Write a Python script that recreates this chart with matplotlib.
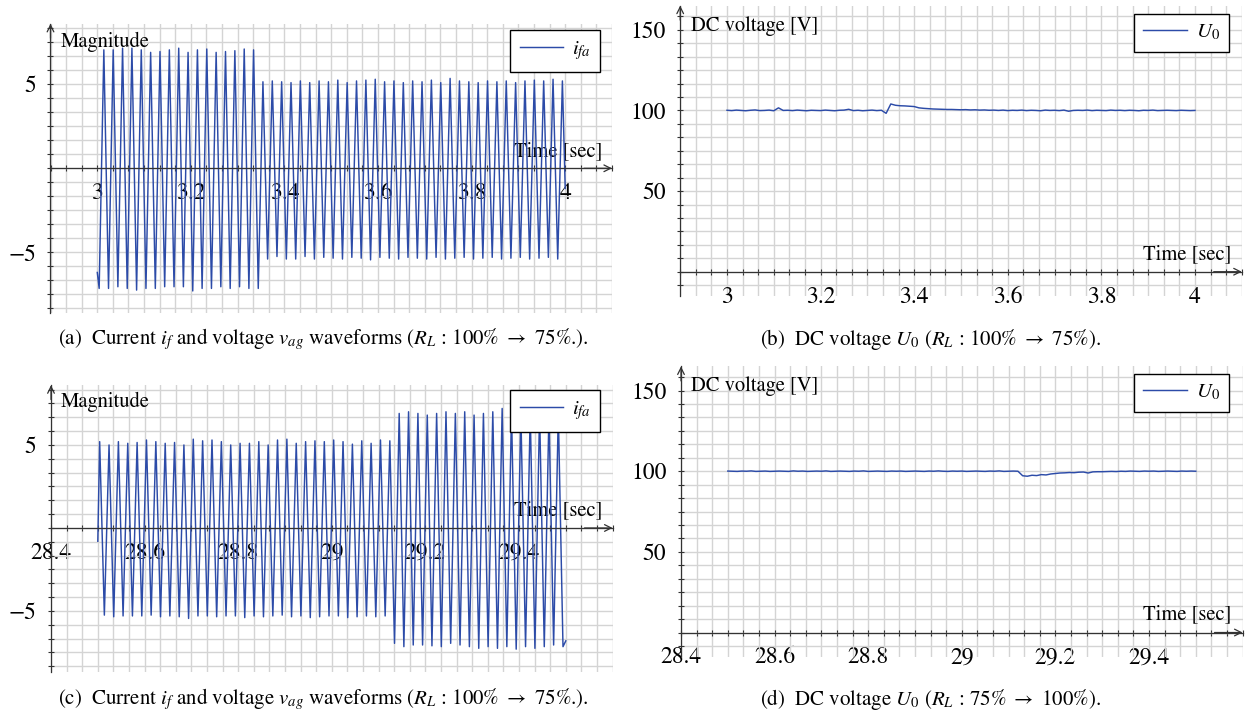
import numpy as np
import matplotlib
matplotlib.use('Agg')
import matplotlib.pyplot as plt
from matplotlib.ticker import MultipleLocator

plt.rcParams['font.family'] = 'STIXGeneral'
plt.rcParams['mathtext.fontset'] = 'stix'

W, H = 1253, 712
BLUE = '#2c4ba8'
GRID = '#d4d4d4'
AXC = '#333333'

# ---- (a) current i_fa, 3..4 s, load step 100% -> 75% ----
a_start = -6.2
a_end = -1.2
a_troughs = [-7.15, -7.15, -7.05, -7.15, -7.25, -7.15, -7.15, -7.05, -7.05, -7.05,
             -7.3, -7.15, -7.15, -7.05, -7.15, -7.05, -7.15, -7.15,
             -5.4, -5.25, -5.4, -5.4, -5.25, -5.4, -5.3, -5.35, -5.4, -5.3,
             -5.35, -5.45, -5.3, -5.35, -5.4, -5.3, -5.35, -5.4, -5.3, -5.4,
             -5.35, -5.3, -5.4, -5.35, -5.3, -5.4, -5.35, -5.3, -5.4, -5.35,
             -5.3, -5.4]
a_peaks = [7.05, 7.05, 7.15, 7.15, 7.05, 6.9, 6.95, 7.05, 7.15, 6.9,
           7.05, 7.1, 6.9, 6.95, 7.0, 7.1, 7.05,
           5.15, 5.2, 5.15, 5.1, 5.2, 5.1, 5.2, 5.15, 5.25, 5.1,
           5.2, 5.25, 5.3, 5.15, 5.2, 5.1, 5.2, 5.15, 5.25, 5.1,
           5.35, 5.2, 5.15, 5.1, 5.2, 5.15, 5.2, 5.1, 5.2, 5.25,
           5.2, 5.3, 5.2]
a_trough_t = 3.004 + 0.02 * np.arange(50)
a_peak_t = 3.014 + 0.02 * np.arange(50)

# ---- (c) current i_fa, 28.5..29.5 s, load step 75% -> 100% ----
c_start = -0.8
c_end = -6.8
c_peaks = [5.2, 5.0, 5.2, 5.1, 5.15, 5.3, 5.2, 5.1, 5.15, 5.0,
           5.35, 5.25, 5.3, 5.2, 5.0, 5.1, 5.1, 5.2, 5.0, 5.3,
           5.35, 5.1, 5.2, 5.25, 5.2, 5.3, 5.2, 5.05, 5.25, 5.1,
           5.3, 5.25,
           6.9, 7.0, 6.9, 6.8, 6.9, 7.0, 6.9, 7.0, 6.8, 6.9,
           7.0, 7.2, 7.0, 6.9, 6.95, 7.0, 6.9, 6.95]
c_troughs = [-5.25, -5.35, -5.3, -5.3, -5.3, -5.25, -5.35, -5.3, -5.35, -5.45,
             -5.3, -5.3, -5.35, -5.3, -5.3, -5.4, -5.3, -5.35, -5.3, -5.25,
             -5.35, -5.3, -5.4, -5.35, -5.3, -5.3, -5.4, -5.35, -5.3, -5.35,
             -5.3,
             -6.95, -7.15, -7.05, -7.05, -7.1, -7.15, -6.95, -7.05, -7.15, -7.25,
             -7.15, -7.25, -7.15, -7.3, -7.15, -7.25, -7.15, -7.05, -7.15]
c_peak_t = 28.504 + 0.02 * np.arange(50)
c_trough_t = 28.514 + 0.02 * np.arange(50)

# ---- (b) DC voltage U0, 3.00..4.00 s every 10 ms ----
t_b = np.linspace(3.0, 4.0, 101)
u_b = [100.1, 99.9, 100.2, 100.0, 99.8, 100.1, 100.3, 99.9, 100.0, 100.2,
       99.8, 101.6, 100.0, 100.1, 99.9, 100.2, 100.0, 99.8, 100.1, 100.0,
       99.9, 100.2, 100.0, 99.8, 100.1, 100.2, 100.7, 99.9, 100.1, 99.8,
       100.0, 100.2, 99.9, 100.1, 98.2,
       104.0, 103.2, 102.9, 102.8, 102.6, 102.4, 101.6, 101.3, 101.1, 100.9,
       100.8, 100.7, 100.6, 100.6, 100.5, 100.4, 100.5, 100.3, 100.4, 100.2,
       100.3, 100.1, 100.2, 100.0, 100.2, 99.9, 100.1, 100.0, 100.2, 99.9,
       100.1, 100.0, 99.8, 100.2, 100.0, 100.1, 99.9, 100.2, 99.5, 100.0,
       100.1, 100.0, 100.2, 99.9, 100.1, 100.0, 99.9, 100.2, 100.0, 100.1,
       99.9, 100.1, 100.0, 99.8, 100.1, 100.0, 100.2, 99.9, 100.0, 100.1,
       100.0, 99.9, 100.1, 100.0, 99.9, 100.0]

# ---- (d) DC voltage U0, 28.50..29.50 s every 10 ms ----
t_d = np.linspace(28.5, 29.5, 101)
u_d = [100.1, 100.0, 99.9, 100.1, 100.0, 100.2, 99.9, 100.0, 100.1, 99.9,
       100.0, 100.1, 100.0, 99.9, 100.2, 100.0, 100.1, 99.9, 100.0, 100.1,
       100.0, 100.2, 99.9, 100.0, 100.1, 100.0, 99.9, 100.1, 100.0, 100.2,
       99.9, 100.0, 100.1, 100.0, 99.9, 100.1, 100.0, 100.1, 99.9, 100.0,
       100.1, 100.0, 99.9, 100.1, 100.0, 100.2, 100.0, 99.9, 100.1, 100.0,
       100.1, 99.9, 100.0, 100.1, 100.0, 99.9, 100.1, 100.0, 100.2, 99.9,
       100.0, 100.1, 100.0,
       97.2, 96.9, 97.5, 97.3, 97.9, 97.7, 98.3, 98.6, 98.9, 99.0,
       99.2, 99.1, 99.4, 99.5, 98.9, 99.6, 99.7, 99.7, 99.8, 99.9,
       99.8, 100.0, 99.9, 100.1, 100.0, 99.9, 100.1, 100.0, 100.1, 99.9,
       100.0, 100.1, 100.0, 99.9, 100.1, 100.0, 100.1, 100.0]


def interleave(t1, v1, t2, v2):
    t = np.empty(len(t1) + len(t2))
    v = np.empty(len(t1) + len(t2))
    t[0::2], t[1::2] = t1, t2
    v[0::2], v[1::2] = v1, v2
    return t, v


ta, ia = interleave(a_trough_t, a_troughs, a_peak_t, a_peaks)
ta = np.concatenate([[3.0], ta, [4.0]])
ia = np.concatenate([[a_start], ia, [a_end]])

tc, ic = interleave(c_peak_t, c_peaks, c_trough_t, c_troughs)
tc = np.concatenate([[28.5], tc, [29.5]])
ic = np.concatenate([[c_start], ic, [c_end]])

fig = plt.figure(figsize=(W / 100, H / 100), dpi=100)


def px_axes(left, top, right, bottom):
    return fig.add_axes([left / W, 1 - bottom / H, (right - left) / W, (bottom - top) / H])


def style(ax, xlim, ylim, xticks, yticks, ymaj):
    ax.set_xlim(xlim)
    ax.set_ylim(ylim)
    ax.set_xticks(xticks)
    ax.set_xticklabels([f'{v:g}' for v in xticks])
    ax.set_yticks(yticks)
    ax.xaxis.set_minor_locator(MultipleLocator(0.2 / 6))
    ax.yaxis.set_minor_locator(MultipleLocator(ymaj / 6))
    ax.set_axisbelow(True)
    ax.grid(which='both', color=GRID, lw=1.0)
    for s in ['top', 'right']:
        ax.spines[s].set_visible(False)
    ax.spines['bottom'].set_position(('data', 0))
    for s in ['bottom', 'left']:
        ax.spines[s].set_color(AXC)
        ax.spines[s].set_linewidth(0.9)
    ax.tick_params(which='both', direction='inout', length=5, width=0.8,
                   color=AXC, labelsize=17, pad=8)
    ax.annotate('', xy=(1, 0), xycoords=('axes fraction', 'data'),
                xytext=(0.95, 0), textcoords=('axes fraction', 'data'),
                arrowprops=dict(arrowstyle='->', color=AXC, lw=0.9,
                                shrinkA=0, shrinkB=0, mutation_scale=12))
    ax.annotate('', xy=(0, 1), xycoords='axes fraction',
                xytext=(0, 0.95), textcoords='axes fraction',
                arrowprops=dict(arrowstyle='->', color=AXC, lw=0.9,
                                shrinkA=0, shrinkB=0, mutation_scale=12))


def label(ax, x, y, s, ha):
    ax.text(x / W, 1 - y / H, s, transform=fig.transFigure, ha=ha, va='baseline',
            fontsize=14.8, zorder=1, clip_on=False)


def legend(ax, right, top):
    ax.legend(loc='upper right', bbox_to_anchor=(right / W, 1 - top / H),
              bbox_transform=fig.transFigure, fancybox=False, framealpha=1,
              edgecolor='black', borderaxespad=0, handlelength=2.1,
              fontsize=15, borderpad=0.45, handletextpad=0.4)


# (a)
ax = px_axes(50.5, 23.8, 612, 312.8)
ax.plot(ta, ia, color=BLUE, lw=1.05, label='$i_{fa}$')
style(ax, (2.9, 4.1), (-8.6, 8.6), [3, 3.2, 3.4, 3.6, 3.8, 4], [-5, 5], 5)
label(ax, 61, 47, 'Magnitude', 'left')
label(ax, 602, 156, 'Time [sec]', 'right')
legend(ax, 600, 30)

# (b)
ax = px_axes(680.2, 5.6, 1241.8, 295.9)
ax.plot(t_b, u_b, color=BLUE, lw=1.05, label='$U_0$')
style(ax, (2.9, 4.1), (-15, 165), [3, 3.2, 3.4, 3.6, 3.8, 4], [50, 100, 150], 50)
label(ax, 691, 31, 'DC voltage [V]', 'left')
label(ax, 1231, 259, 'Time [sec]', 'right')
legend(ax, 1229, 13.5)

# (c)
ax = px_axes(51, 385.2, 612.6, 672.4)
ax.plot(tc, ic, color=BLUE, lw=1.05, label='$i_{fa}$')
style(ax, (28.4, 29.6), (-8.7, 8.6), [28.4, 28.6, 28.8, 29, 29.2, 29.4], [-5, 5], 5)
label(ax, 61, 407, 'Magnitude', 'left')
label(ax, 602, 515, 'Time [sec]', 'right')
legend(ax, 600, 390)

# (d)
ax = px_axes(681, 366.4, 1242.6, 656.7)
ax.plot(t_d, u_d, color=BLUE, lw=1.05, label='$U_0$')
style(ax, (28.4, 29.6), (-15, 165), [28.4, 28.6, 28.8, 29, 29.2, 29.4], [50, 100, 150], 50)
label(ax, 691, 391, 'DC voltage [V]', 'left')
label(ax, 1231, 619, 'Time [sec]', 'right')
legend(ax, 1229, 373.5)

# captions
caps = [(323, 339, r'(a)  Current $i_f$ and voltage $v_{ag}$ waveforms ($R_L$ : 100% $\rightarrow$ 75%.).'),
        (931, 339, r'(b)  DC voltage $U_0$ ($R_L$ : 100% $\rightarrow$ 75%).'),
        (323, 699, r'(c)  Current $i_f$ and voltage $v_{ag}$ waveforms ($R_L$ : 100% $\rightarrow$ 75%.).'),
        (931, 699, r'(d)  DC voltage $U_0$ ($R_L$ : 75% $\rightarrow$ 100%).')]
for x, y, s in caps:
    fig.text(x / W, 1 - y / H, s, ha='center', va='center', fontsize=15)

fig.savefig('out.png', dpi=100)
